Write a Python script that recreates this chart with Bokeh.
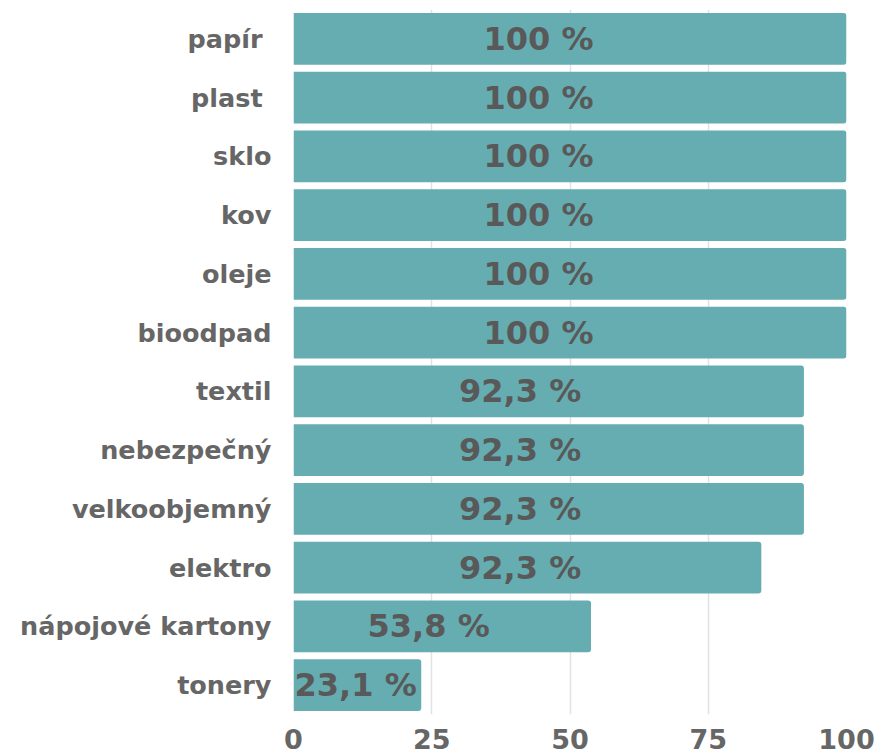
from bokeh.plotting import figure
from bokeh.models import ColumnDataSource, FactorRange, Range1d, FixedTicker
from bokeh.core.properties import value
from bokeh.embed import file_html
from bokeh.resources import INLINE

categories = ["papír ", "plast ", "sklo", "kov", "oleje", "bioodpad", "textil",
              "nebezpečný", "velkoobjemný", "elektro", "nápojové kartony", "tonery"]
bar_values = [100, 100, 100, 100, 100, 100, 92.3, 92.3, 92.3, 84.6, 53.8, 23.1]
label_values = [100, 100, 100, 100, 100, 100, 92.3, 92.3, 92.3, 92.3, 53.8, 23.1]
label_texts = ["100 %", "100 %", "100 %", "100 %", "100 %", "100 %",
               "92,3 %", "92,3 %", "92,3 %", "92,3 %", "53,8 %", "23,1 %"]
x_ticks = [0, 25, 50, 75, 100]

FONT = "DejaVu Sans"
BAR = "#66adb1"

src = ColumnDataSource(dict(
    cat=categories,
    val=bar_values,
    lx=[0.43 * v + 1.3 for v in label_values],
    txt=label_texts,
))

p = figure(
    width=883, height=754,
    y_range=FactorRange(factors=list(reversed(categories)), range_padding=0),
    x_range=Range1d(0, 100),
    output_backend="svg", toolbar_location=None,
    min_border_left=293, min_border_right=37, min_border_top=9, min_border_bottom=40,
)

p.hbar(y="cat", right="val", left=0, height=0.884, source=src,
       fill_color=BAR, line_color=None, border_radius=(0, 3, 3, 0))

p.text(x="lx", y="cat", text="txt", source=src,
       text_font=value(FONT), text_font_style="bold", text_font_size="32px",
       text_color="#595959", text_align="center", text_baseline="middle")

p.outline_line_color = None
p.ygrid.grid_line_color = None
p.xgrid.grid_line_color = "#e2e2e2"
p.xgrid.grid_line_width = 1.5
p.xgrid.ticker = FixedTicker(ticks=x_ticks)

p.xaxis.ticker = FixedTicker(ticks=x_ticks)
p.xaxis.axis_line_color = None
p.xaxis.major_tick_line_color = None
p.xaxis.minor_tick_line_color = None
p.xaxis.major_label_text_font = FONT
p.xaxis.major_label_text_font_style = "bold"
p.xaxis.major_label_text_font_size = "27px"
p.xaxis.major_label_text_color = "#666666"
p.xaxis.major_label_standoff = 8

p.yaxis.axis_line_color = None
p.yaxis.major_tick_line_color = None
p.yaxis.minor_tick_line_color = None
p.yaxis.major_label_text_font = FONT
p.yaxis.major_label_text_font_style = "bold"
p.yaxis.major_label_text_font_size = "25.5px"
p.yaxis.major_label_text_color = "#666666"
p.yaxis.major_label_standoff = 16

open("out.html", "w").write(file_html(p, INLINE))
